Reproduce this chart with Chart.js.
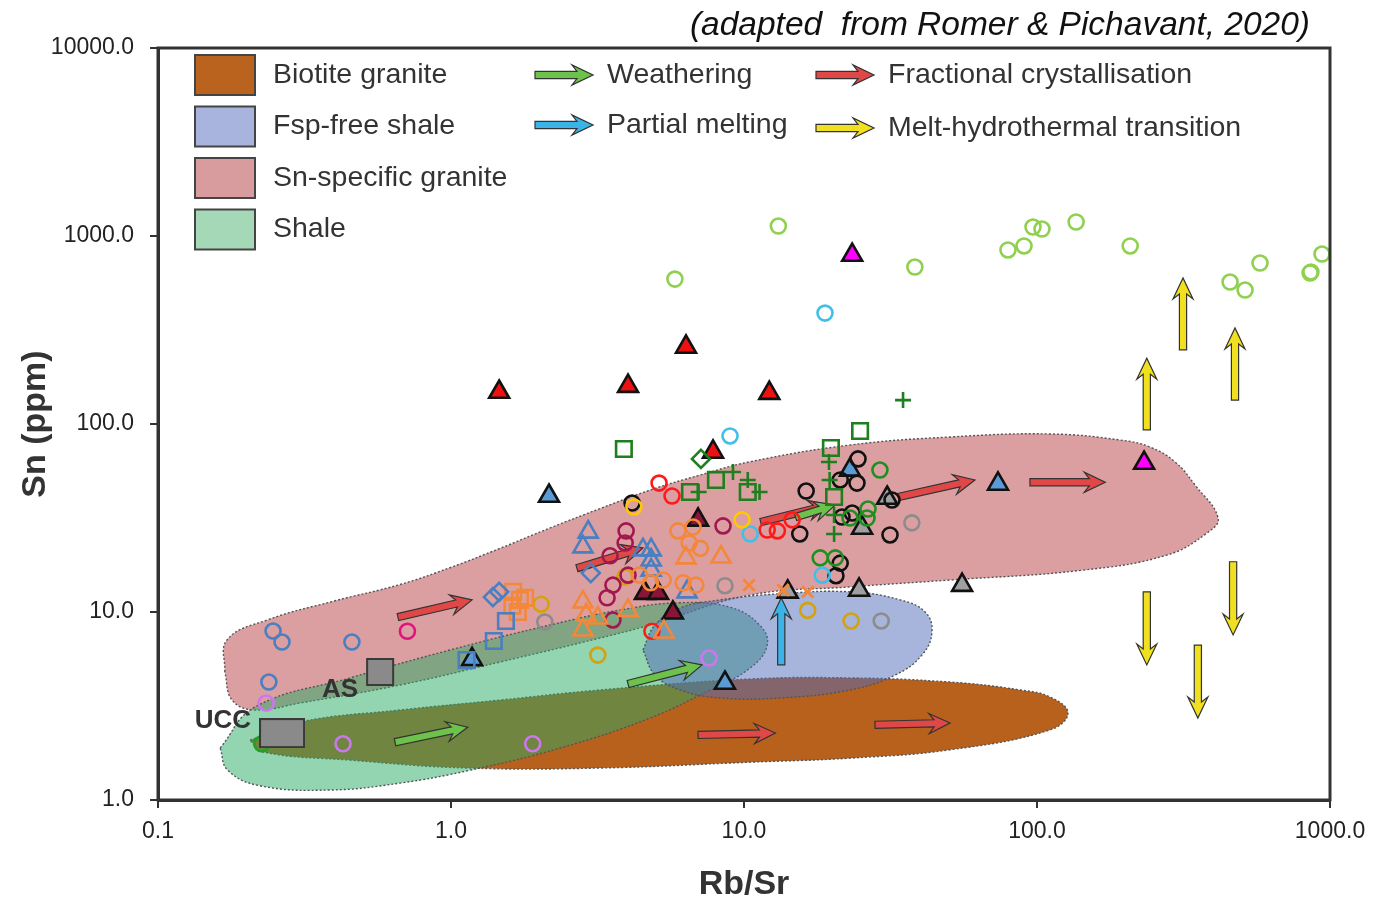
<!DOCTYPE html>
<html><head><meta charset="utf-8">
<script src="https://cdn.jsdelivr.net/npm/chart.js@4.4.1/dist/chart.umd.min.js"></script>
<style>html,body{margin:0;padding:0;background:#fff;}#wrap{width:1390px;height:903px;}</style>
</head><body><div id="wrap"><canvas id="c" width="1390" height="903"></canvas></div>
<script>
const FONT = "'Liberation Sans', Arial, Helvetica, sans-serif";

// ---- axis ticks ----
const xTickValues = [0.1, 1, 10, 100, 1000];
const xTickLabels = ['0.1', '1.0', '10.0', '100.0', '1000.0'];
const yTickValues = [1, 10, 100, 1000, 10000];
const yTickLabels = ['1.0', '10.0', '100.0', '1000.0', '10000.0'];

// ---- field outlines (Rb/Sr, Sn) ----
const biotiteX = [0.206, 0.305, 0.670, 1.47, 3.23, 10.5, 23.0, 50.5, 87.5, 110.8, 127.6, 110.8, 50.5, 23.0, 10.5, 3.23, 1.13, 0.452, 0.228, 0.206];
const biotiteY = [2.08, 2.60, 3.01, 3.40, 3.85, 4.40, 4.46, 4.24, 3.85, 3.53, 2.90, 2.36, 1.85, 1.67, 1.59, 1.48, 1.48, 1.63, 1.80, 2.08];
const snGraniteX = [0.169, 0.172, 0.236, 0.396, 0.670, 0.992, 1.47, 2.18, 3.23, 4.78, 7.08, 10.5, 23.0, 50.5, 110.8, 192, 243, 296, 346, 415, 380, 278, 143.5, 50.5, 23.0, 10.5, 4.78, 3.23, 1.47, 0.670, 0.305, 0.214, 0.179, 0.169];
const snGraniteY = [4.80, 7.10, 9.07, 11.4, 14.0, 17.2, 21.8, 28.0, 35.5, 44.5, 53.5, 63.0, 77.3, 85.3, 88.5, 82.2, 75.4, 62.8, 47.4, 31.6, 26.3, 20.1, 16.7, 14.8, 13.6, 12.3, 8.53, 7.27, 5.42, 4.09, 3.28, 3.01, 3.40, 4.80];
const shaleX = [0.163, 0.214, 0.452, 0.992, 2.18, 3.78, 6.05, 8.96, 11.3, 12.0, 10.5, 7.66, 4.78, 2.36, 1.16, 0.670, 0.386, 0.223, 0.173, 0.163];
const shaleY = [1.89, 3.12, 4.46, 6.28, 8.53, 10.25, 11.2, 10.6, 8.53, 6.67, 5.04, 3.85, 2.73, 1.89, 1.44, 1.23, 1.13, 1.19, 1.44, 1.89];
const fspShaleX = [4.52, 4.97, 6.05, 8.28, 13.3, 23.0, 34.1, 41.5, 43.8, 40.5, 32.8, 23.0, 13.3, 8.28, 6.05, 4.97, 4.52];
const fspShaleY = [6.28, 8.53, 10.5, 11.6, 12.5, 12.8, 11.6, 10.0, 7.83, 5.91, 4.62, 3.85, 3.49, 3.49, 3.85, 4.62, 6.28];

// ---- samples ----
const limeCircX = [5.81, 13.1, 38.3, 79.6, 90.3, 96.9, 104, 136, 208, 456, 513, 577, 855, 861, 939];
const limeCircY = [590, 1130, 684, 843, 885, 1116, 1089, 1187, 885, 569, 516, 718, 636, 644, 802];
const redTriX = [1.46, 4.02, 6.34, 12.2, 7.84];
const redTriY = [148, 159, 257, 146, 71];
const magTriX = [23.4, 232];
const magTriY = [792, 62];
const blueTriX = [2.16, 73.6, 1.18, 8.61, 23.0];
const blueTriY = [41.4, 48, 5.6, 4.19, 57];
const greyTriX = [24.7, 55.5, 25.3, 30.8, 14.1];
const greyTriY = [13.1, 13.9, 28.0, 40.4, 12.8];
const maroonTriX = [6.97, 4.59, 5.09, 5.72];
const maroonTriY = [30.9, 12.6, 12.6, 9.9];
const blackCircX = [16.3, 15.5, 24.5, 24.3, 21.3, 21.6, 23.4, 31.5, 32.0, 21.3, 20.6, 4.15];
const blackCircY = [44.0, 26.0, 65.2, 48.5, 50.4, 32.0, 33.6, 25.7, 39.4, 18.2, 15.6, 38.0];
const redCircX = [5.13, 5.68, 12.0, 13.0, 14.6, 4.85];
const redCircY = [48.5, 41.4, 27.3, 27.0, 30.9, 7.9];
const pinkCircX = [0.71];
const pinkCircY = [7.9];
const maroonCircX = [3.96, 3.93, 3.49, 8.48, 3.57, 3.41, 3.57, 4.02];
const maroonCircY = [27.0, 23.3, 19.9, 28.7, 13.9, 11.9, 9.07, 15.7];
const goldCircX = [2.03, 3.17, 16.5, 23.2, 3.92];
const goldCircY = [11.0, 5.9, 10.2, 8.96, 15.4];
const yellowCircX = [4.21, 9.85];
const yellowCircY = [36.2, 30.9];
const greyCircX = [2.09, 8.61, 37.4, 29.4];
const greyCircY = [8.85, 13.8, 29.8, 8.96];
const cyanCircX = [8.96, 18.9, 10.5, 18.5];
const cyanCircY = [86.4, 389, 26.0, 15.7];
const violetCircX = [0.234, 0.428, 1.90, 7.60];
const violetCircY = [3.28, 1.99, 1.99, 5.69];
const greenCircX = [0.226];
const greenCircY = [1.99];
const steelCircX = [0.247, 0.265, 0.459, 0.239];
const steelCircY = [7.92, 6.92, 6.92, 4.24];
const dkGreenCircX = [29.1, 26.5, 26.3, 18.2, 20.5, 23.0];
const dkGreenCircY = [56.9, 35.3, 31.6, 19.4, 19.4, 31.6];
const dkGreenSqX = [3.89, 24.9, 19.8, 6.54, 8.02, 10.3, 20.3];
const dkGreenSqY = [73.6, 91.8, 74.5, 43.5, 50.4, 43.5, 40.9];
const dkGreenDiaX = [7.13];
const dkGreenDiaY = [65.2];
const dkGreenPlusX = [34.9, 9.17, 10.3, 11.3, 7.0, 19.5, 19.6, 20.3, 20.3];
const dkGreenPlusY = [134, 55.5, 50.4, 43.5, 43.5, 62.8, 50.4, 32.8, 26.0];
const steelTriX = [2.94, 2.82, 4.52, 4.82, 4.82, 4.82, 6.39];
const steelTriY = [26.6, 22.2, 21.4, 21.4, 18.9, 16.7, 12.8];
const steelDiaX = [1.39, 1.46, 3.0];
const steelDiaY = [12.0, 12.8, 16.1];
const steelSqX = [1.54, 1.40, 1.13];
const steelSqY = [8.96, 7.01, 5.55];
const orangeSqX = [1.63, 1.72, 1.62, 1.79, 1.69];
const orangeSqY = [12.8, 11.6, 10.8, 11.9, 10.0];
const orangeTriX = [2.82, 2.89, 2.82, 3.17, 4.02, 5.33, 6.34, 8.35];
const orangeTriY = [11.3, 9.64, 8.02, 9.29, 10.2, 7.83, 19.4, 19.6];
const orangeCircX = [5.95, 6.70, 6.5, 7.1, 4.8, 5.3, 6.2, 6.85, 4.4];
const orangeCircY = [27.0, 28.3, 23.3, 21.8, 14.3, 14.8, 14.3, 13.9, 15.7];
const orangeCrossX = [10.4, 13.6, 16.5];
const orangeCrossY = [13.9, 13.1, 12.8];
const asX = [0.573];
const asY = [4.8];
const uccX = [0.265];
const uccY = [2.27];

// ---- process arrows [x1, y1, x2, y2] ----
const fracArrows = [[0.659, 9.4, 1.18, 11.6], [2.69, 17.1, 4.52, 21.9], [11.4, 30.1, 19.6, 37.1], [33.6, 40.9, 61.4, 50.4], [94.6, 49, 171, 49], [6.97, 2.22, 12.8, 2.27], [28.0, 2.51, 50.5, 2.57]];
const weatherArrows = [[0.644, 2.03, 1.14, 2.44], [4.02, 4.14, 7.19, 5.23], [15.0, 32.0, 20.5, 37.1]];
const meltArrows = [[13.4, 5.23, 13.4, 11.9]];
const hydroArrows = [[237, 93, 237, 224], [315, 248, 315, 598], [474, 134, 474, 324], [237, 12.8, 237, 5.23], [354, 6.67, 354, 2.73], [467, 18.5, 467, 7.55]];

const fieldLegend = ['Biotite granite', 'Fsp-free shale', 'Sn-specific granite', 'Shale'];
const arrowLegend = ['Weathering', 'Partial melting', 'Fractional crystallisation', 'Melt-hydrothermal transition'];

const pts = (xs, ys) => xs.map((x, i) => ({x: x, y: ys[i]}));

function region(label, xs, ys, fillColor, order) {
  return {label, data: pts(xs, ys), showLine: true, fill: 'shape', backgroundColor: fillColor,
    borderColor: '#555', borderWidth: 1.4, borderDash: [2, 2], tension: 0.42, pointRadius: 0,
    order: order, isRegion: true};
}
function marks(label, xs, ys, style, color, fillColor, radius, extra) {
  return Object.assign({label, data: pts(xs, ys), showLine: false, pointStyle: style,
    pointRadius: radius, pointBorderColor: color, pointBackgroundColor: fillColor || 'rgba(0,0,0,0)',
    pointBorderWidth: 2.6, order: 1}, extra || {});
}

// UCC rectangle symbol
const uccImg = document.createElement('canvas');
uccImg.width = 46; uccImg.height = 30;
(function () {
  const g = uccImg.getContext('2d');
  g.fillStyle = '#8a8a8a'; g.fillRect(1, 1, 44, 28);
  g.strokeStyle = '#3a3a3a'; g.lineWidth = 2; g.strokeRect(1, 1, 44, 28);
})();

const datasets = [
  region('Biotite granite', biotiteX, biotiteY, 'rgb(184,97,29)', 100),
  region('Sn-specific granite', snGraniteX, snGraniteY, 'rgba(190,80,85,0.55)', 99),
  region('Shale', shaleX, shaleY, 'rgba(40,170,100,0.5)', 98),
  region('Fsp-free shale', fspShaleX, fspShaleY, 'rgba(80,105,185,0.5)', 97),
  marks('AS', asX, asY, 'rect', '#3a3a3a', '#8a8a8a', 18.4, {pointBorderWidth: 2}),
  marks('UCC', uccX, uccY, uccImg, '#3a3a3a', '#8a8a8a', 15),
  marks('lime', limeCircX, limeCircY, 'circle', '#8fd14f', null, 7.5),
  marks('steel circ', steelCircX, steelCircY, 'circle', '#4a7fc0', null, 7.5),
  marks('violet', violetCircX, violetCircY, 'circle', '#cc77ee', null, 7.5),
  marks('green', greenCircX, greenCircY, 'circle', '#22a022', null, 7.5),
  marks('pink', pinkCircX, pinkCircY, 'circle', '#e0137f', null, 7.5),
  marks('steel sq', steelSqX, steelSqY, 'rect', '#4a7fc0', null, 11),
  marks('steel dia', steelDiaX, steelDiaY, 'rectRot', '#4a7fc0', null, 9),
  marks('orange sq', orangeSqX, orangeSqY, 'rect', '#f4883a', null, 11),
  marks('orange tri', orangeTriX, orangeTriY, 'triangle', '#f4883a', null, 11),
  marks('orange circ', orangeCircX, orangeCircY, 'circle', '#f4883a', null, 7.5),
  marks('orange x', orangeCrossX, orangeCrossY, 'crossRot', '#f4883a', null, 8, {pointBorderWidth: 3}),
  marks('steel tri', steelTriX, steelTriY, 'triangle', '#4a7fc0', null, 11),
  marks('maroon circ', maroonCircX, maroonCircY, 'circle', '#a3174f', null, 7.5),
  marks('gold', goldCircX, goldCircY, 'circle', '#d4a20e', null, 7.5),
  marks('grey circ', greyCircX, greyCircY, 'circle', '#8c8c8c', null, 7.5),
  marks('yellow', yellowCircX, yellowCircY, 'circle', '#ffc800', null, 7.5),
  marks('cyan', cyanCircX, cyanCircY, 'circle', '#41bfea', null, 7.5),
  marks('red circ', redCircX, redCircY, 'circle', '#ff1a1a', null, 7.5),
  marks('dkgreen sq', dkGreenSqX, dkGreenSqY, 'rect', '#1f7f1f', null, 11),
  marks('dkgreen dia', dkGreenDiaX, dkGreenDiaY, 'rectRot', '#1f7f1f', null, 9),
  marks('dkgreen plus', dkGreenPlusX, dkGreenPlusY, 'cross', '#1f7f1f', null, 8),
  marks('dkgreen circ', dkGreenCircX, dkGreenCircY, 'circle', '#1f8f1f', null, 7.5),
  marks('black circ', blackCircX, blackCircY, 'circle', '#111111', null, 7.5),
  marks('maroon tri', maroonTriX, maroonTriY, 'triangle', '#111111', '#8b1538', 11.5),
  marks('grey tri', greyTriX, greyTriY, 'triangle', '#111111', '#a0a0a0', 11.5),
  marks('blue tri', blueTriX, blueTriY, 'triangle', '#111111', '#5b9bd5', 11.5),
  marks('red tri', redTriX, redTriY, 'triangle', '#111111', '#ee1111', 11.5),
  marks('magenta tri', magTriX, magTriY, 'triangle', '#111111', '#ff00ff', 11.5)
];
const lastRegionIndex = 3;

function arrowPath(ctx, x1, y1, x2, y2, color) {
  const ang = Math.atan2(y2 - y1, x2 - x1), len = Math.hypot(x2 - x1, y2 - y1);
  const sw = 3.6, hw = 10, hl = 21, back = 5;
  ctx.save();
  ctx.translate(x1, y1); ctx.rotate(ang);
  ctx.beginPath();
  ctx.moveTo(0, -sw);
  ctx.lineTo(len - hl + back, -sw);
  ctx.lineTo(len - hl, -hw);
  ctx.lineTo(len, 0);
  ctx.lineTo(len - hl, hw);
  ctx.lineTo(len - hl + back, sw);
  ctx.lineTo(0, sw);
  ctx.closePath();
  ctx.fillStyle = color; ctx.fill();
  ctx.lineWidth = 1.2; ctx.strokeStyle = '#333'; ctx.setLineDash([]); ctx.stroke();
  ctx.restore();
}

const overlay = {
  id: 'overlay',
  afterDatasetDraw(chart, args) {
    if (args.index !== lastRegionIndex) return;
    const ctx = chart.ctx, sx = chart.scales.x, sy = chart.scales.y;
    const groups = [[fracArrows, '#e04848'], [weatherArrows, '#6cc24a'], [meltArrows, '#3bb3e6'], [hydroArrows, '#f0e020']];
    groups.forEach(([arr, col]) => arr.forEach(a => {
      arrowPath(ctx, sx.getPixelForValue(a[0]), sy.getPixelForValue(a[1]), sx.getPixelForValue(a[2]), sy.getPixelForValue(a[3]), col);
    }));
  },
  afterDraw(chart) {
    const ctx = chart.ctx, ca = chart.chartArea, sx = chart.scales.x, sy = chart.scales.y;
    ctx.save();
    // frame
    ctx.strokeStyle = '#333'; ctx.lineWidth = 3; ctx.setLineDash([]);
    ctx.strokeRect(ca.left, ca.top, ca.right - ca.left, ca.bottom - ca.top);
    // reference labels
    ctx.fillStyle = '#333'; ctx.font = 'bold 26px ' + FONT; ctx.textBaseline = 'middle';
    ctx.textAlign = 'right';
    ctx.fillText('UCC', sx.getPixelForValue(uccX[0]) - 31, sy.getPixelForValue(uccY[0]) - 12);
    ctx.textAlign = 'center';
    ctx.fillText('AS', sx.getPixelForValue(asX[0]) - 40, sy.getPixelForValue(asY[0]) + 18);
    // field legend
    const swatch = ['#b9631f', '#a9b4de', '#d99c9e', '#a5d8b6'];
    const L = ca.left;
    ctx.font = '28.5px ' + FONT; ctx.textAlign = 'left';
    fieldLegend.forEach((t, i) => {
      const cy = ca.top + 27 + i * 51.5;
      ctx.fillStyle = swatch[i]; ctx.fillRect(L + 37, cy - 20, 60, 40);
      ctx.strokeStyle = '#444'; ctx.lineWidth = 2; ctx.strokeRect(L + 37, cy - 20, 60, 40);
      ctx.fillStyle = '#333'; ctx.fillText(t, L + 115, cy);
    });
    // process legend
    const acol = ['#6cc24a', '#3bb3e6', '#e04848', '#f0e020'];
    const apos = [[535, 75], [535, 125], [816, 75], [816, 128]];
    arrowLegend.forEach((t, i) => {
      const [ax, ay] = apos[i];
      arrowPath(ctx, ax, ay, ax + 58, ay, acol[i]);
      ctx.fillStyle = '#333'; ctx.font = '28.5px ' + FONT; ctx.textAlign = 'left'; ctx.textBaseline = 'middle';
      ctx.fillText(t, ax + 72, ay);
    });
    // attribution
    ctx.font = 'italic 33.5px ' + FONT; ctx.textAlign = 'right'; ctx.fillStyle = '#111';
    ctx.fillText('(adapted  from Romer & Pichavant, 2020)', 1310, 26);
    ctx.restore();
  }
};

new Chart(document.getElementById('c'), {
  type: 'scatter',
  data: {datasets},
  options: {
    responsive: false, animation: false, devicePixelRatio: 1,
    layout: {padding: {top: 48, right: 60, left: 0, bottom: 0}},
    plugins: {legend: {display: false}, tooltip: {enabled: false}, filler: {drawTime: 'beforeDatasetDraw'}},
    scales: {
      x: {
        type: 'logarithmic', min: 0.1, max: 1000,
        afterBuildTicks: s => { s.ticks = xTickValues.map(v => ({value: v})); },
        afterFit: s => { s.height = 103; },
        ticks: {callback: (v, i) => xTickLabels[i], font: {family: FONT, size: 23}, color: '#222', padding: 10, maxRotation: 0, autoSkip: false},
        grid: {drawOnChartArea: false, drawTicks: true, tickLength: 8, color: '#333', lineWidth: 2},
        border: {display: true, color: '#333', width: 3},
        title: {display: true, text: 'Rb/Sr', font: {family: FONT, size: 34, weight: 'bold'}, color: '#333', padding: {top: 0, bottom: -2}}
      },
      y: {
        type: 'logarithmic', min: 1, max: 10000,
        afterBuildTicks: s => { s.ticks = yTickValues.map(v => ({value: v})); },
        afterFit: s => { s.width = 158; },
        ticks: {callback: (v, i) => yTickLabels[i], font: {family: FONT, size: 23}, color: '#222', padding: 16, autoSkip: false},
        grid: {drawOnChartArea: false, drawTicks: true, tickLength: 8, color: '#333', lineWidth: 2},
        border: {display: true, color: '#333', width: 3},
        title: {display: true, text: 'Sn (ppm)', font: {family: FONT, size: 34, weight: 'bold'}, color: '#333', padding: {top: 15, bottom: 0}}
      }
    }
  },
  plugins: [overlay]
});
</script></body></html>
